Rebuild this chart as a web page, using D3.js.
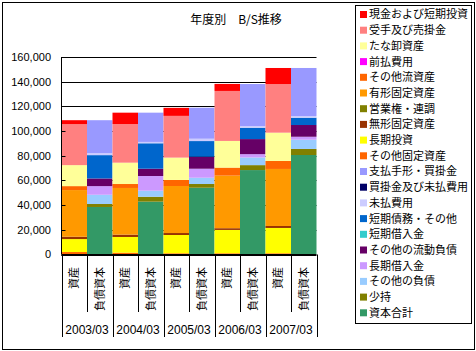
<!DOCTYPE html>
<html>
<head>
<meta charset="utf-8">
<script src="https://cdn.jsdelivr.net/npm/d3@7"></script>
<style>
  body { margin: 0; background: #fff; }
  svg { display: block; }
</style>
</head>
<body>
<div id="chart"></div>
<script>
// --- data ---
const years = ["2003/03", "2004/03", "2005/03", "2006/03", "2007/03"];
const sides = ["資産", "負債資本"];
const yTicks = [0, 20000, 40000, 60000, 80000, 100000, 120000, 140000, 160000];

// legend order (top of the legend first)
const seriesNames = [
  "現金および短期投資", "受手及び売掛金", "たな卸資産", "前払費用", "その他流資産",
  "有形固定資産", "営業権・連調", "無形固定資産", "長期投資", "その他固定資産",
  "支払手形・買掛金", "買掛金及び未払費用", "未払費用", "短期債務・その他", "短期借入金",
  "その他の流動負債", "長期借入金", "その他の負債", "少持", "資本合計"
];
const seriesColors = [
  "#FF0000", "#FF8080", "#FFFF99", "#FF00FF", "#FF6600",
  "#FF9900", "#808000", "#993300", "#FFFF00", "#FF6600",
  "#9999FF", "#000066", "#CCCCFF", "#0066CC", "#33CCCC",
  "#660066", "#CC99FF", "#99CCFF", "#808000", "#339966"
];

// one value per bar: 2003資産, 2003負債資本, 2004資産, 2004負債資本, ...
const genkin     = [3200, 0, 9200, 0, 6500, 0, 5700, 0, 13000, 0];
const uketegata  = [33200, 0, 31300, 0, 33800, 0, 40500, 0, 39400, 0];
const tanaoroshi = [17000, 0, 17300, 0, 18100, 0, 21600, 0, 22900, 0];
const maebarai   = [0, 0, 0, 0, 0, 0, 0, 0, 0, 0];
const sonotaRyu  = [3200, 0, 3200, 0, 4900, 0, 6500, 0, 6500, 0];
const yukei      = [37800, 0, 37800, 0, 38100, 0, 42600, 0, 46200, 0];
const eigyoken   = [0, 0, 0, 0, 0, 0, 0, 0, 0, 0];
const mukei      = [1900, 0, 1900, 0, 1600, 0, 1400, 0, 1600, 0];
const chokiToshi = [10500, 0, 12700, 0, 14800, 0, 18900, 0, 20500, 0];
const sonotaKotei = [2000, 0, 1500, 0, 1000, 0, 1000, 0, 1000, 0];
const shiharai   = [0, 26700, 0, 23700, 0, 25100, 0, 34000, 0, 38900];
const kaikake    = [0, 0, 0, 0, 0, 0, 0, 0, 0, 0];
const miharai    = [0, 1600, 0, 1100, 0, 1900, 0, 1400, 0, 1400];
const tankiSaimu = [0, 18900, 0, 20600, 0, 12700, 0, 9200, 0, 5900];
const tankiKari  = [0, 0, 0, 0, 0, 0, 0, 0, 0, 0];
const sonotaRyuFusai = [0, 6200, 0, 5900, 0, 9700, 0, 12200, 0, 9500];
const chokiKari  = [0, 7000, 0, 11900, 0, 7300, 0, 2700, 0, 2400];
const sonotaFusai = [0, 7500, 0, 4900, 0, 5100, 0, 6200, 0, 7500];
const shomochi   = [0, 2400, 0, 4000, 0, 3000, 0, 4000, 0, 4900];
const shihon     = [0, 38500, 0, 42800, 0, 54100, 0, 68400, 0, 80600];

const seriesValues = [
  genkin, uketegata, tanaoroshi, maebarai, sonotaRyu,
  yukei, eigyoken, mukei, chokiToshi, sonotaKotei,
  shiharai, kaikake, miharai, tankiSaimu, tankiKari,
  sonotaRyuFusai, chokiKari, sonotaFusai, shomochi, shihon
];

// table: one row per bar
const bars = [];
years.forEach((yr, yi) => {
  sides.forEach((sd, si) => {
    const idx = yi * 2 + si;
    const row = { id: idx, year: yr, side: sd };
    seriesNames.forEach((n, k) => { row[n] = seriesValues[k][idx]; });
    bars.push(row);
  });
});

// --- chart setup ---
const W = 476, H = 351;
const jp = "'Noto Sans CJK JP', sans-serif";
const num = "'Liberation Sans', Arial, sans-serif";

const svg = d3.select("#chart").append("svg")
  .attr("width", W)
  .attr("height", H);

// outer frame
svg.append("rect")
  .attr("x", 2.5).attr("y", 2.5)
  .attr("width", 472).attr("height", 347)
  .attr("fill", "#fff")
  .attr("stroke", "#000");

const x = d3.scaleBand()
  .domain(bars.map(d => d.id))
  .range([61.5, 316.5])
  .padding(0);

const y = d3.scaleLinear()
  .domain([0, 160000])
  .range([254.5, 57]);

const color = d3.scaleOrdinal().domain(seriesNames).range(seriesColors);

// gridlines (behind bars)
svg.append("g")
  .selectAll("line")
  .data(yTicks)
  .enter().append("line")
  .attr("x1", x.range()[0]).attr("x2", x.range()[1])
  .attr("y1", d => Math.round(y(d)) + 0.5)
  .attr("y2", d => Math.round(y(d)) + 0.5)
  .attr("stroke", "#000");

// stacked bars: bottom series is the last legend entry
const stack = d3.stack().keys(seriesNames.slice().reverse());
const layers = stack(bars);

svg.append("g")
  .selectAll("g")
  .data(layers)
  .enter().append("g")
  .attr("fill", d => color(d.key))
  .selectAll("rect")
  .data(d => d.filter(s => s[1] - s[0] > 0))
  .enter().append("rect")
  .attr("x", d => x(d.data.id))
  .attr("y", d => y(d[1]))
  .attr("width", x.bandwidth())
  .attr("height", d => y(d[0]) - y(d[1]));

// y axis line + inner ticks
const gY = svg.append("g");
gY.append("line")
  .attr("x1", 61.5).attr("x2", 61.5)
  .attr("y1", y(160000)).attr("y2", y(0))
  .attr("stroke", "#000");
gY.selectAll("line.tick")
  .data(yTicks)
  .enter().append("line")
  .attr("class", "tick")
  .attr("x1", 61.5).attr("x2", 65.5)
  .attr("y1", d => Math.round(y(d)) + 0.5)
  .attr("y2", d => Math.round(y(d)) + 0.5)
  .attr("stroke", "#000");
gY.selectAll("text")
  .data(yTicks)
  .enter().append("text")
  .attr("x", 51)
  .attr("y", d => y(d))
  .attr("dy", "0.35em")
  .attr("text-anchor", "end")
  .style("font-family", num)
  .style("font-size", "11px")
  .text(d => d3.format(",")(d));

// x axis
const gX = svg.append("g");
gX.append("line")
  .attr("x1", x.range()[0]).attr("x2", x.range()[1])
  .attr("y1", y(0)).attr("y2", y(0))
  .attr("stroke", "#000");

const bounds = d3.range(bars.length + 1).map(i =>
  i < bars.length ? x(i) : x(bars.length - 1) + x.bandwidth());
gX.selectAll("line.sep")
  .data(bounds)
  .enter().append("line")
  .attr("class", "sep")
  .attr("x1", d => Math.round(d) + 0.5).attr("x2", d => Math.round(d) + 0.5)
  .attr("y1", y(0))
  .attr("y2", (d, i) => i % 2 === 0 ? 337 : 312)
  .attr("stroke", "#000");

// 資産 / 負債資本 (縦書き)
gX.selectAll("text.side")
  .data(bars)
  .enter().append("text")
  .attr("class", "side")
  .attr("transform", d => `translate(${x(d.id) + x.bandwidth() / 2},267) rotate(-90)`)
  .attr("dy", "0.35em")
  .attr("text-anchor", "end")
  .style("font-family", jp)
  .style("font-size", "11px")
  .text(d => d.side);

// year labels
gX.selectAll("text.year")
  .data(years)
  .enter().append("text")
  .attr("class", "year")
  .attr("x", (d, i) => x(i * 2) + x.bandwidth())
  .attr("y", 334)
  .attr("text-anchor", "middle")
  .style("font-family", num)
  .style("font-size", "12px")
  .text(d => d);

// title
svg.append("text")
  .attr("x", 236)
  .attr("y", 24)
  .attr("text-anchor", "middle")
  .style("font-family", jp)
  .style("font-size", "12px")
  .text("年度別　B/S推移");

// legend
const legend = svg.append("g");
legend.append("rect")
  .attr("x", 355.5).attr("y", 5.5)
  .attr("width", 116).attr("height", 318)
  .attr("fill", "#fff")
  .attr("stroke", "#000");

const item = legend.selectAll("g.item")
  .data(seriesNames)
  .enter().append("g")
  .attr("class", "item")
  .attr("transform", (d, i) => `translate(360,${14.5 + i * 15.7})`);

item.append("rect")
  .attr("x", 0).attr("y", -3.5)
  .attr("width", 7).attr("height", 7)
  .attr("fill", d => color(d));

item.append("text")
  .attr("x", 9)
  .attr("y", 0)
  .attr("dy", "0.36em")
  .style("font-family", jp)
  .style("font-size", "11px")
  .text(d => d);
</script>
</body>
</html>
